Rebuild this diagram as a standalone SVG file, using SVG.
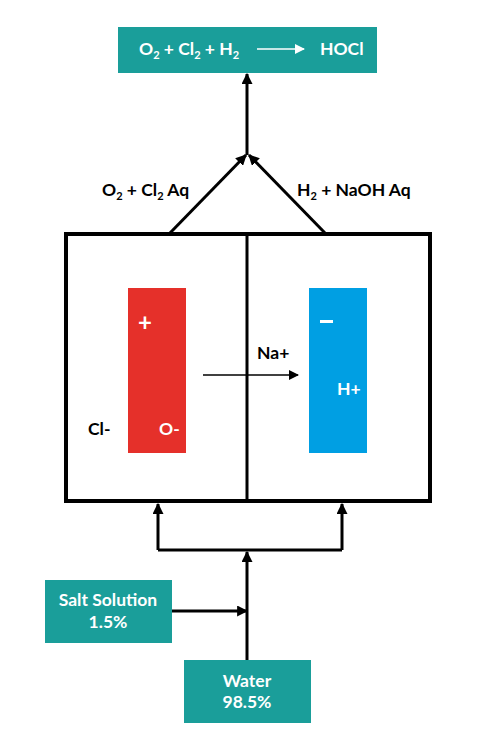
<svg xmlns="http://www.w3.org/2000/svg" width="480" height="747" viewBox="0 0 480 747">
<defs>
<marker id="ah" viewBox="0 0 10 10" refX="9" refY="5" markerWidth="10" markerHeight="10" markerUnits="userSpaceOnUse" orient="auto"><path d="M0,0 L10,5 L0,10 z" fill="#000"/></marker>
<marker id="ahs" viewBox="0 0 10 10" refX="9" refY="5" markerWidth="11" markerHeight="11" markerUnits="userSpaceOnUse" orient="auto"><path d="M0,0 L10,5 L0,10 z" fill="#000"/></marker>
<marker id="ahw" viewBox="0 0 10 10" refX="9" refY="5" markerWidth="10" markerHeight="10" markerUnits="userSpaceOnUse" orient="auto"><path d="M0,0 L10,5 L0,10 z" fill="#fff"/></marker>
</defs>
<style>
text{font-family:Lato,"Open Sans","Liberation Sans",sans-serif;font-weight:bold;font-size:17.5px}
.sub{font-size:11px}
.big{font-size:24px}
.w{fill:#fff}
.k{fill:#000}
.teal{fill:#1a9e9a}
.ln{stroke:#000;stroke-width:3;fill:none}
</style>
<rect width="480" height="747" fill="#fff"/>
<g id="connectors">
<path class="ln" d="M247,155 V74" marker-end="url(#ahs)"/>
<path class="ln" d="M170,233 L246,155" marker-end="url(#ahs)"/>
<path class="ln" d="M325,233 L249,155" marker-end="url(#ahs)"/>
<path class="ln" d="M247,660 V552" marker-end="url(#ahs)"/>
<path class="ln" d="M172,611 H247" marker-end="url(#ahs)"/>
<path class="ln" d="M158,550 H342"/>
<path class="ln" d="M158,550 V504" marker-end="url(#ahs)"/>
<path class="ln" d="M342,550 V504" marker-end="url(#ahs)"/>
<path d="M203,375 H298" stroke="#000" stroke-width="1.3" marker-end="url(#ah)"/>
</g>
<g id="product">
<rect class="teal" x="118" y="27" width="259" height="46"/>
<text class="w" x="139" y="55">O<tspan class="sub" dy="4">2</tspan><tspan dy="-4"> + Cl</tspan><tspan class="sub" dy="4">2</tspan><tspan dy="-4"> + H</tspan><tspan class="sub" dy="4">2</tspan></text>
<path d="M257,49 H304" stroke="#fff" stroke-width="1.5" marker-end="url(#ahw)"/>
<text class="w" x="320" y="55">HOCl</text>
</g>
<g id="labels">
<text class="k" x="102" y="196">O<tspan class="sub" dy="4">2</tspan><tspan dy="-4"> + Cl</tspan><tspan class="sub" dy="4">2</tspan><tspan dy="-4"> Aq</tspan></text>
<text class="k" x="297" y="196">H<tspan class="sub" dy="4">2</tspan><tspan dy="-4"> + NaOH Aq</tspan></text>
</g>
<g id="cell">
<rect x="66" y="234" width="364" height="267" fill="none" stroke="#000" stroke-width="4"/>
<path d="M247,234 V501" stroke="#000" stroke-width="3"/>
</g>
<g id="anode">
<rect x="128" y="288" width="58" height="165" fill="#e5302a"/>
<text class="w big" x="145" y="331" text-anchor="middle">+</text>
<text class="w" x="159" y="435">O-</text>
</g>
<g id="cathode">
<rect x="309" y="288" width="58" height="165" fill="#009fe3"/>
<rect x="320" y="320" width="13" height="3" fill="#fff"/>
<text class="w" x="337" y="395">H+</text>
</g>
<g id="ions">
<text class="k" x="88" y="435">Cl-</text>
<text class="k" x="257" y="359">Na+</text>
</g>
<g id="salt">
<rect class="teal" x="45" y="580" width="127" height="63"/>
<text class="w" x="108" y="606" text-anchor="middle">Salt Solution</text>
<text class="w" x="108" y="628" text-anchor="middle">1.5%</text>
</g>
<g id="water">
<rect class="teal" x="184" y="660" width="127" height="63"/>
<text class="w" x="247" y="687" text-anchor="middle">Water</text>
<text class="w" x="247" y="708" text-anchor="middle">98.5%</text>
</g>
</svg>
